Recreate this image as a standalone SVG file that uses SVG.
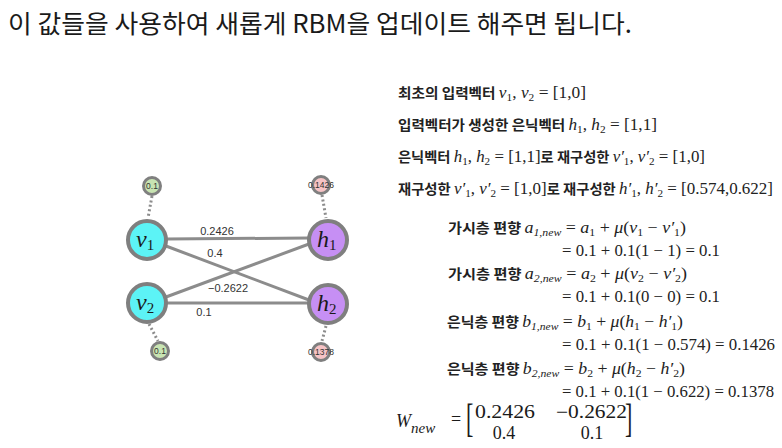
<svg xmlns="http://www.w3.org/2000/svg" width="782" height="448" viewBox="0 0 782 448">
<style>
.title{font-family:"Noto Sans CJK KR","Noto Sans",sans-serif;font-size:25px;fill:#1a1a1a}
.ko{font-family:"Noto Sans CJK KR","Noto Sans",sans-serif;font-weight:700;font-size:13.5px;fill:#222}
.m{font-family:"Liberation Serif","DejaVu Serif",serif;font-size:16px;fill:#222}
.i{font-style:italic}
.s{font-size:10.5px}
.edge{stroke:#8c8c8c;stroke-width:3;fill:none}
.dot{stroke:#8c8c8c;stroke-width:3;stroke-dasharray:2 2.5;fill:none}
.node{stroke:#7f7f7f;stroke-width:4}
.bias{stroke:#7f7f7f;stroke-width:3}
.vis{fill:#5cf3f6}
.hid{fill:#c68ff4}
.bv{fill:#c8e4b2}
.bh{fill:#f6c3c5}
.nl{font-family:"Liberation Serif","DejaVu Serif",serif;font-style:italic;font-size:24px;fill:#1a1a1a}
.nls{font-size:15px;font-style:normal}
.bl{font-family:"Liberation Sans",Arial,sans-serif;font-size:8.5px;fill:#333;text-anchor:middle}
.wl{font-family:"Liberation Sans",Arial,sans-serif;font-size:11px;fill:#333;text-anchor:middle}
.mx{font-family:"Liberation Serif","DejaVu Serif",serif;font-size:18px;fill:#1a1a1a}
.br{font-family:"Liberation Serif","DejaVu Serif",serif;font-size:22px;fill:#1a1a1a}
</style>
<rect width="782" height="448" fill="#ffffff"/>
<text class="title" x="8" y="33" textLength="624" lengthAdjust="spacingAndGlyphs">이 값들을 사용하여 새롭게 RBM을 업데이트 해주면 됩니다.</text>

<g id="connectors">
<line class="edge" x1="166" y1="239" x2="309" y2="238"/>
<line class="edge" x1="166" y1="246" x2="309" y2="300"/>
<line class="edge" x1="166" y1="297" x2="309" y2="244"/>
<line class="edge" x1="166" y1="303" x2="309" y2="303"/>
<line class="dot" x1="152" y1="196" x2="148" y2="218"/>
<line class="dot" x1="149" y1="324" x2="158" y2="341"/>
<line class="dot" x1="322" y1="195" x2="326" y2="218"/>
<line class="dot" x1="326" y1="326" x2="322" y2="341"/>
<text class="wl" x="217" y="235">0.2426</text>
<text class="wl" x="215" y="257">0.4</text>
<text class="wl" x="228" y="292">−0.2622</text>
<text class="wl" x="204" y="316">0.1</text>
</g>

<g id="bias-v1"><circle class="bias bv" cx="152" cy="186" r="8.5"/><text class="bl" x="152" y="189">0.1</text></g>
<g id="bias-v2"><circle class="bias bv" cx="160" cy="351" r="8.5"/><text class="bl" x="160" y="354">0.1</text></g>
<g id="bias-h1"><circle class="bias bh" cx="321" cy="185" r="8.5"/><text class="bl" x="321" y="188">0.1426</text></g>
<g id="bias-h2"><circle class="bias bh" cx="321" cy="352" r="8.5"/><text class="bl" x="321" y="355">0.1378</text></g>

<g id="v1"><circle class="node vis" cx="147" cy="240" r="19"/><text class="nl" x="136" y="247">v<tspan class="nls" dy="3">1</tspan></text></g>
<g id="v2"><circle class="node vis" cx="147" cy="303" r="19"/><text class="nl" x="136" y="310">v<tspan class="nls" dy="3">2</tspan></text></g>
<g id="h1"><circle class="node hid" cx="328" cy="240" r="19"/><text class="nl" x="317" y="247">h<tspan class="nls" dy="3">1</tspan></text></g>
<g id="h2"><circle class="node hid" cx="328" cy="304" r="19"/><text class="nl" x="317" y="311">h<tspan class="nls" dy="3">2</tspan></text></g>

<g id="facts">
<text x="398" y="98" textLength="188" lengthAdjust="spacingAndGlyphs"><tspan class="ko">최초의 입력벡터 </tspan><tspan class="m i">v</tspan><tspan class="m s" dy="3">1</tspan><tspan class="m" dy="-3">, </tspan><tspan class="m i">v</tspan><tspan class="m s" dy="3">2</tspan><tspan class="m" dy="-3"> = [1,0]</tspan></text>
<text x="398" y="130" textLength="259" lengthAdjust="spacingAndGlyphs"><tspan class="ko">입력벡터가 생성한 은닉벡터 </tspan><tspan class="m i">h</tspan><tspan class="m s" dy="3">1</tspan><tspan class="m" dy="-3">, </tspan><tspan class="m i">h</tspan><tspan class="m s" dy="3">2</tspan><tspan class="m" dy="-3"> = [1,1]</tspan></text>
<text x="398" y="162" textLength="307" lengthAdjust="spacingAndGlyphs"><tspan class="ko">은닉벡터 </tspan><tspan class="m i">h</tspan><tspan class="m s" dy="3">1</tspan><tspan class="m" dy="-3">, </tspan><tspan class="m i">h</tspan><tspan class="m s" dy="3">2</tspan><tspan class="m" dy="-3"> = [1,1]</tspan><tspan class="ko">로 재구성한 </tspan><tspan class="m i">v′</tspan><tspan class="m s" dy="3">1</tspan><tspan class="m" dy="-3">, </tspan><tspan class="m i">v′</tspan><tspan class="m s" dy="3">2</tspan><tspan class="m" dy="-3"> = [1,0]</tspan></text>
<text x="398" y="194" textLength="375" lengthAdjust="spacingAndGlyphs"><tspan class="ko">재구성한 </tspan><tspan class="m i">v′</tspan><tspan class="m s" dy="3">1</tspan><tspan class="m" dy="-3">, </tspan><tspan class="m i">v′</tspan><tspan class="m s" dy="3">2</tspan><tspan class="m" dy="-3"> = [1,0]</tspan><tspan class="ko">로 재구성한 </tspan><tspan class="m i">h′</tspan><tspan class="m s" dy="3">1</tspan><tspan class="m" dy="-3">, </tspan><tspan class="m i">h′</tspan><tspan class="m s" dy="3">2</tspan><tspan class="m" dy="-3"> = [0.574,0.622]</tspan></text>
</g>

<g id="equations">
<text x="448" y="233" textLength="238" lengthAdjust="spacingAndGlyphs"><tspan class="ko">가시층 편향 </tspan><tspan class="m i">a</tspan><tspan class="m i s" dy="3">1,new</tspan><tspan class="m" dy="-3"> = </tspan><tspan class="m i">a</tspan><tspan class="m s" dy="3">1</tspan><tspan class="m" dy="-3"> + </tspan><tspan class="m i">μ</tspan><tspan class="m">(</tspan><tspan class="m i">v</tspan><tspan class="m s" dy="3">1</tspan><tspan class="m" dy="-3"> − </tspan><tspan class="m i">v′</tspan><tspan class="m s" dy="3">1</tspan><tspan class="m" dy="-3">)</tspan></text>
<text class="m" x="562" y="256" textLength="158" lengthAdjust="spacingAndGlyphs">= 0.1 + 0.1(1 − 1) = 0.1</text>
<text x="448" y="279" textLength="239" lengthAdjust="spacingAndGlyphs"><tspan class="ko">가시층 편향 </tspan><tspan class="m i">a</tspan><tspan class="m i s" dy="3">2,new</tspan><tspan class="m" dy="-3"> = </tspan><tspan class="m i">a</tspan><tspan class="m s" dy="3">2</tspan><tspan class="m" dy="-3"> + </tspan><tspan class="m i">μ</tspan><tspan class="m">(</tspan><tspan class="m i">v</tspan><tspan class="m s" dy="3">2</tspan><tspan class="m" dy="-3"> − </tspan><tspan class="m i">v′</tspan><tspan class="m s" dy="3">2</tspan><tspan class="m" dy="-3">)</tspan></text>
<text class="m" x="562" y="302" textLength="158" lengthAdjust="spacingAndGlyphs">= 0.1 + 0.1(0 − 0) = 0.1</text>
<text x="447" y="327" textLength="236" lengthAdjust="spacingAndGlyphs"><tspan class="ko">은닉층 편향 </tspan><tspan class="m i">b</tspan><tspan class="m i s" dy="3">1,new</tspan><tspan class="m" dy="-3"> = </tspan><tspan class="m i">b</tspan><tspan class="m s" dy="3">1</tspan><tspan class="m" dy="-3"> + </tspan><tspan class="m i">μ</tspan><tspan class="m">(</tspan><tspan class="m i">h</tspan><tspan class="m s" dy="3">1</tspan><tspan class="m" dy="-3"> − </tspan><tspan class="m i">h′</tspan><tspan class="m s" dy="3">1</tspan><tspan class="m" dy="-3">)</tspan></text>
<text class="m" x="562" y="350" textLength="213" lengthAdjust="spacingAndGlyphs">= 0.1 + 0.1(1 − 0.574) = 0.1426</text>
<text x="447" y="374" textLength="238" lengthAdjust="spacingAndGlyphs"><tspan class="ko">은닉층 편향 </tspan><tspan class="m i">b</tspan><tspan class="m i s" dy="3">2,new</tspan><tspan class="m" dy="-3"> = </tspan><tspan class="m i">b</tspan><tspan class="m s" dy="3">2</tspan><tspan class="m" dy="-3"> + </tspan><tspan class="m i">μ</tspan><tspan class="m">(</tspan><tspan class="m i">h</tspan><tspan class="m s" dy="3">2</tspan><tspan class="m" dy="-3"> − </tspan><tspan class="m i">h′</tspan><tspan class="m s" dy="3">2</tspan><tspan class="m" dy="-3">)</tspan></text>
<text class="m" x="562" y="397" textLength="212" lengthAdjust="spacingAndGlyphs">= 0.1 + 0.1(1 − 0.622) = 0.1378</text>
</g>

<g id="matrix">
<text class="mx" x="396" y="427" font-size="22"><tspan font-style="italic">W</tspan><tspan font-style="italic" font-size="15" dy="6">new</tspan></text>
<text class="mx" x="456" y="425" font-size="22" text-anchor="middle">=</text>
<text class="br" x="466" y="0" transform="translate(0,432) scale(1,1.85)">[</text>
<text class="br" x="625" y="0" transform="translate(0,432) scale(1,1.85)">]</text>
<text class="mx" x="475" y="418" textLength="60" lengthAdjust="spacingAndGlyphs">0.2426</text>
<text class="mx" x="556" y="418" textLength="71" lengthAdjust="spacingAndGlyphs">−0.2622</text>
<text class="mx" x="504" y="439" text-anchor="middle">0.4</text>
<text class="mx" x="592" y="439" text-anchor="middle">0.1</text>
</g>
</svg>
